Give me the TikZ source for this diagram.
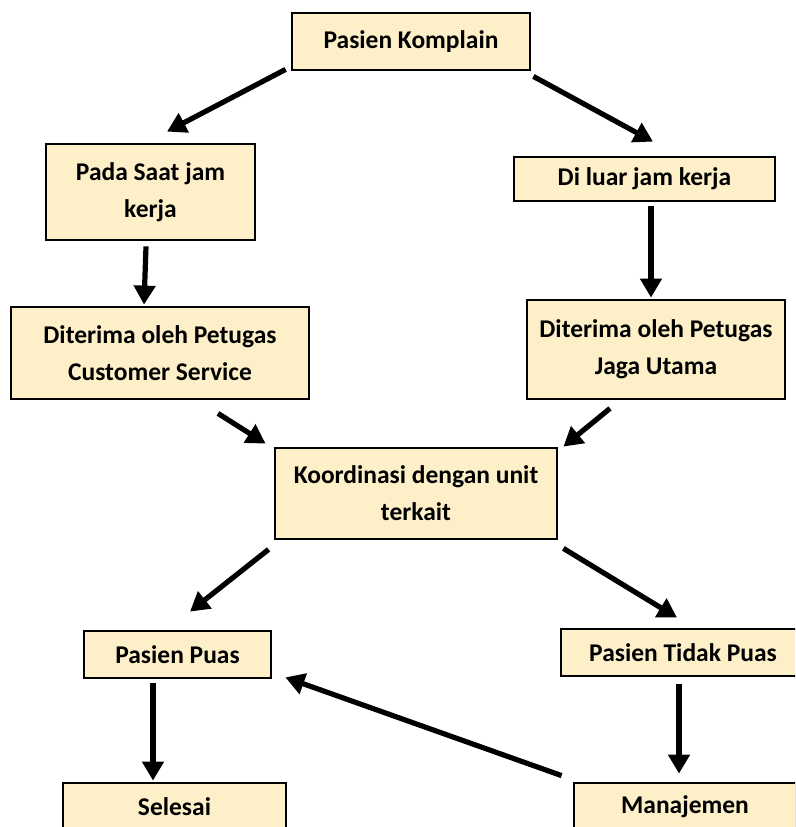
\documentclass[tikz,border=0pt]{standalone}
\usepackage{fontspec}
\setmainfont{Carlito}
\usetikzlibrary{arrows.meta,calc}
\definecolor{boxfill}{HTML}{FDF0C8}
\tikzset{
  box/.style={draw=black, line width=2.8pt, fill=boxfill, inner sep=0pt, align=center,
    font=\fontsize{25.5pt}{37pt}\selectfont\bfseries},
  arr/.style={line width=5.2pt, -{Triangle[length=19pt,width=21pt]}}
}
\begin{document}
\begin{tikzpicture}[x=1pt,y=-1pt]
\useasboundingbox (0,0) rectangle (795,827);
\clip (0,0) rectangle (795,827);
\node[box, minimum width=238pt, minimum height=57pt] (komplain) at (411,41.5) {Pasien Komplain};
\node[box, minimum width=209pt, minimum height=96pt] (pada) at (150.5,192) {Pada Saat jam\\kerja};
\node[box, minimum width=261pt, minimum height=44pt] (luar) at (644.5,179) {Di luar jam kerja};
\node[box, minimum width=298pt, minimum height=92pt] (cs) at (160,353) {Diterima oleh Petugas\\Customer Service};
\node[box, minimum width=258pt, minimum height=99pt] (jaga) at (656,349.5) {Diterima oleh Petugas\\Jaga Utama};
\node[box, minimum width=282pt, minimum height=91pt] (koord) at (416,493.5) {Koordinasi dengan unit\\terkait};
\node[box, minimum width=187pt, minimum height=47pt] (puas) at (177.5,654.5) {Pasien Puas};
\node[box, minimum width=244pt, minimum height=47pt] (tidak) at (683,652.5) {Pasien Tidak Puas};
\node[box, minimum width=223pt, minimum height=48pt] (selesai) at (174.5,807) {Selesai};
\node[box, minimum width=222pt, minimum height=48pt] (manaj) at (685,807) {Manajemen};

\draw[arr] ($(komplain.south west)+(-5,-2)$) -- ($(pada.north)+(16.5,-11)$);
\draw[arr] ($(komplain.south east)+(2,5)$) -- ($(luar.north)+(8.5,-14)$);
\draw[arr] ($(pada.south)+(-4.5,5)$) -- ($(cs.north)+(-16,-1)$);
\draw[arr] ($(luar.south)+(6.5,4)$) -- ($(jaga.north)+(-5,-1)$);
\draw[arr] ($(cs.south)+(58,13)$) -- ($(koord.north west)+(-8,-3)$);
\draw[arr] ($(jaga.south)+(-46,8)$) -- ($(koord.north east)+(5,0)$);
\draw[arr] ($(koord.south west)+(-5,9)$) -- ($(puas.north)+(12.5,-18)$);
\draw[arr] ($(koord.south east)+(5,8)$) -- ($(tidak.north)+(-6,-10)$);
\draw[arr] ($(puas.south)+(-24.5,4)$) -- ($(selesai.north)+(-21.5,-1)$);
\draw[arr] ($(tidak.south)+(-4,7)$) -- ($(manaj.north)+(-6,-8)$);
\draw[arr] ($(manaj.north west)+(-11,-6)$) -- ($(puas.south east)+(13,-2)$);
\end{tikzpicture}
\end{document}
